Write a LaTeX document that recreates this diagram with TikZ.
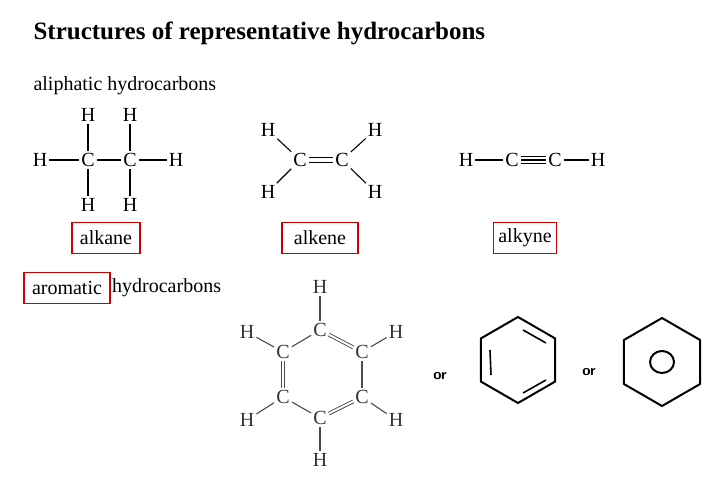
\documentclass[tikz,border=0pt]{standalone}
\usepackage{fontspec}
\setmainfont{Liberation Serif}
\usetikzlibrary{positioning,calc}
\tikzset{
  atom/.style={inner sep=2pt, font=\fontsize{20}{22}\selectfont},
  gatom/.style={atom, text=black!80},
  bond/.style={line width=1.1pt},
  gbond/.style={line width=1.1pt, draw=black!70},
  namebox/.style={draw=red!80!black, line width=1.5pt, minimum width=68pt,
    minimum height=31pt, inner sep=1pt, font=\fontsize{20}{22}\selectfont},
  label/.style={anchor=west, font=\fontsize{20}{22}\selectfont},
  hand/.style={line width=2pt, line join=round},
}
\begin{document}
\begin{tikzpicture}[x=1pt, y=-1pt]
  \useasboundingbox (0,0) rectangle (720,478);

  % Headings
  \node (title) [label, font=\fontsize{25}{27}\bfseries] at (30,33) {Structures of representative hydrocarbons};
  \node (aliph) [label] at (30,86) {aliphatic hydrocarbons};

  % Ethane
  \node (a1) [atom] at (88,160) {C};
  \node (a2) [atom] at (130,160) {C};
  \node (a3) [atom] at (40,160) {H};
  \node (a4) [atom] at (176,160) {H};
  \node (a5) [atom] at (88,115) {H};
  \node (a6) [atom] at (130,115) {H};
  \node (a7) [atom] at (88,205) {H};
  \node (a8) [atom] at (130,205) {H};
  \foreach \u/\v in {a1/a2,a1/a3,a2/a4,a1/a5,a2/a6,a1/a7,a2/a8}
    \draw [bond] (\u) -- (\v);
  \node (alkane) [namebox] at (106,238) {alkane};

  % Ethene
  \node (e1) [atom] at (300,160) {C};
  \node (e2) [atom] at (342,160) {C};
  \node (e3) [atom] at (268,130) {H};
  \node (e4) [atom] at (375,130) {H};
  \node (e5) [atom] at (268,192) {H};
  \node (e6) [atom] at (375,192) {H};
  \draw [bond] ([yshift=-2.5]e1.east) -- ([yshift=-2.5]e2.west);
  \draw [bond] ([yshift=2.5]e1.east) -- ([yshift=2.5]e2.west);
  \foreach \u/\v in {e1/e3,e1/e5,e2/e4,e2/e6}
    \draw [bond] (\u) -- (\v);
  \node (alkene) [namebox, minimum width=76pt] at (320,238) {alkene};

  % Ethyne
  \node (y1) [atom] at (512,160) {C};
  \node (y2) [atom] at (555,160) {C};
  \node (y3) [atom] at (466,160) {H};
  \node (y4) [atom] at (598,160) {H};
  \foreach \s in {-3.5,0,3.5}
    \draw [bond] ([yshift=\s]y1.east) -- ([yshift=\s]y2.west);
  \draw [bond] (y3) -- (y1);
  \draw [bond] (y2) -- (y4);
  \node (alkyne) [namebox, minimum width=63pt] at (525,238) {alkyne};

  % Aromatic
  \node (arom) [namebox, minimum width=86pt] at (67,288) {aromatic};
  \node (hydro) [label, inner sep=1pt] at (111,288) {hydrocarbons};

  % Benzene
  \node (b1) [gatom] at (320,330) {C};
  \node (b2) [gatom] at (362,352) {C};
  \node (b3) [gatom] at (362,397) {C};
  \node (b4) [gatom] at (320,418) {C};
  \node (b5) [gatom] at (283,397) {C};
  \node (b6) [gatom] at (283,352) {C};
  \node (h1) [gatom] at (320,287) {H};
  \node (h2) [gatom] at (396,332) {H};
  \node (h3) [gatom] at (396,420) {H};
  \node (h4) [gatom] at (320,460) {H};
  \node (h5) [gatom] at (247,420) {H};
  \node (h6) [gatom] at (247,332) {H};
  \foreach \u/\v in {b1/h1,b2/h2,b3/h3,b4/h4,b5/h5,b6/h6,b2/b3,b4/b5,b6/b1}
    \draw [gbond] (\u) -- (\v);
  \foreach \u/\v in {b1/b2,b3/b4,b5/b6}
    \draw [gbond, double, double distance=2pt, line width=0.9pt] (\u) -- (\v);

  % Hand-drawn rings
  \node (or1) [font=\fontsize{15}{16}\sffamily\bfseries] at (440,376) {or};
  \coordinate (r1) at (518,360);
  \draw [hand] (r1) ++(90:43) -- ++(-30:43) -- ++(-90:43) -- ++(-150:43)
    -- ++(150:43) -- ++(90:43) -- cycle;
  \draw [hand, line width=1.6pt] ($(r1)+(-28,-10)$) -- ($(r1)+(-27,15)$);
  \draw [hand, line width=1.6pt] ($(r1)+(5,-30)$) -- ($(r1)+(28,-17)$);
  \draw [hand, line width=1.6pt] ($(r1)+(5,33)$) -- ($(r1)+(28,20)$);
  \node (or2) [font=\fontsize{15}{16}\sffamily\bfseries] at (589,372) {or};
  \coordinate (r2) at (662,362);
  \draw [hand] (r2) ++(90:44) -- ++(-30:44) -- ++(-90:44) -- ++(-150:44)
    -- ++(150:44) -- ++(90:44) -- cycle;
  \draw [hand] (r2) ellipse [x radius=12, y radius=11];
\end{tikzpicture}
\end{document}
